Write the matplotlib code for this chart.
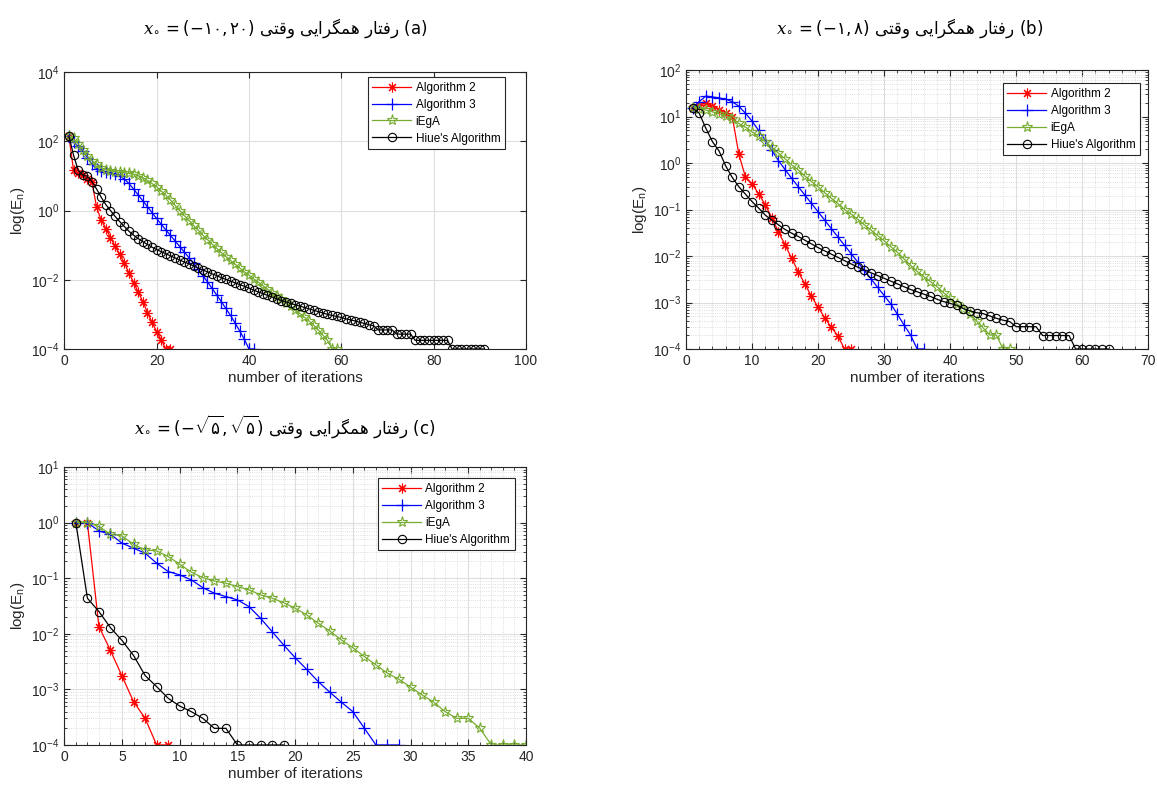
import numpy as np
import matplotlib
matplotlib.use("Agg")
import matplotlib.pyplot as plt
from matplotlib.ticker import MultipleLocator, LogLocator, NullLocator

plt.rcParams['font.family'] = ['Liberation Sans', 'DejaVu Sans']
plt.rcParams['font.size'] = 10
plt.rcParams['mathtext.fontset'] = 'custom'
plt.rcParams['mathtext.rm'] = 'DejaVu Sans'
plt.rcParams['mathtext.it'] = 'DejaVu Serif:italic'

# log10(E_n), iteration n = 1, 2, ...
# (a) x0 = (-10, 20)
a_alg2 = [2.15, 1.16, 1.07, 1.02, 0.92, 0.82, 0.09, -0.28, -0.52, -0.78, -1.03, -1.27,
          -1.51, -1.8, -2.08, -2.35, -2.63, -2.95, -3.23, -3.5, -3.74, -4.0, -4.0]
a_alg3 = [2.15, 1.98, 1.85, 1.72, 1.53, 1.33, 1.2, 1.15, 1.12, 1.09, 1.05, 0.99, 0.91,
          0.78, 0.62, 0.45, 0.28, 0.11, -0.06, -0.23, -0.4, -0.56, -0.72, -0.88, -1.04,
          -1.2, -1.36, -1.52, -1.7, -1.88, -2.06, -2.25, -2.44, -2.63, -2.83, -3.03,
          -3.25, -3.48, -3.72, -4.0, -4.0]
a_iega = [2.15, 2.08, 1.93, 1.75, 1.57, 1.44, 1.33, 1.24, 1.18, 1.14, 1.12, 1.1, 1.09,
          1.07, 1.05, 1.01, 0.95, 0.87, 0.78, 0.68, 0.56, 0.44, 0.3, 0.15, 0.0, -0.15,
          -0.29, -0.43, -0.57, -0.71, -0.84, -0.97, -1.09, -1.21, -1.33, -1.44, -1.55,
          -1.66, -1.77, -1.87, -1.97, -2.07, -2.17, -2.27, -2.37, -2.47, -2.57, -2.67,
          -2.77, -2.87, -2.97, -3.08, -3.19, -3.31, -3.45, -3.6, -3.75, -4.0, -4.0]
a_hiue = [2.15, 1.6, 1.16, 1.02, 0.99, 0.83, 0.62, 0.38, 0.17, 0.0, -0.17, -0.32, -0.46,
          -0.6, -0.71, -0.81, -0.9, -0.98, -1.06, -1.13, -1.19, -1.25, -1.31, -1.37,
          -1.43, -1.49, -1.54, -1.6, -1.66, -1.72, -1.77, -1.83, -1.88, -1.94, -1.99,
          -2.04, -2.09, -2.14, -2.19, -2.24, -2.3, -2.35, -2.4, -2.45, -2.5, -2.55, -2.6,
          -2.64, -2.68, -2.72, -2.76, -2.8, -2.84, -2.88, -2.92, -2.96, -3.0, -3.03,
          -3.06, -3.09, -3.13, -3.16, -3.19, -3.23, -3.26, -3.3, -3.33, -3.45, -3.45,
          -3.45, -3.45, -3.57, -3.57, -3.57, -3.57, -3.75, -3.75, -3.75, -3.75, -3.75,
          -3.75, -3.75, -3.75, -4.0, -4.0, -4.0, -4.0, -4.0, -4.0, -4.0, -4.0]

# (b) x0 = (-1, 8)
b_alg2 = [1.18, 1.24, 1.29, 1.22, 1.15, 1.08, 1.0, 0.19, -0.3, -0.45, -0.66, -0.9,
          -1.18, -1.48, -1.76, -2.05, -2.34, -2.6, -2.87, -3.1, -3.33, -3.53, -3.72,
          -4.0, -4.0]
b_alg3 = [1.18, 1.32, 1.44, 1.42, 1.4, 1.37, 1.32, 1.22, 1.07, 0.9, 0.7, 0.49, 0.27,
          0.05, -0.14, -0.33, -0.51, -0.69, -0.87, -1.05, -1.23, -1.41, -1.59, -1.77,
          -1.95, -2.13, -2.31, -2.49, -2.67, -2.85, -3.03, -3.25, -3.48, -3.7, -4.0, -4.0]
b_iega = [1.18, 1.17, 1.14, 1.1, 1.06, 1.01, 0.94, 0.85, 0.77, 0.67, 0.57, 0.46, 0.34,
          0.21, 0.09, -0.04, -0.15, -0.28, -0.4, -0.51, -0.64, -0.76, -0.87, -1.0, -1.1,
          -1.21, -1.33, -1.44, -1.56, -1.67, -1.8, -1.92, -2.06, -2.2, -2.33, -2.44,
          -2.55, -2.66, -2.79, -2.91, -3.03, -3.13, -3.25, -3.4, -3.55, -3.7, -3.7,
          -4.0, -4.0]
b_hiue = [1.18, 1.07, 0.75, 0.46, 0.26, -0.06, -0.31, -0.51, -0.67, -0.83, -0.97, -1.12,
          -1.23, -1.33, -1.43, -1.51, -1.58, -1.66, -1.74, -1.82, -1.89, -1.96, -2.03,
          -2.1, -2.17, -2.24, -2.3, -2.36, -2.42, -2.48, -2.54, -2.6, -2.66, -2.72,
          -2.77, -2.82, -2.87, -2.93, -2.98, -3.02, -3.06, -3.13, -3.18, -3.22, -3.24,
          -3.29, -3.34, -3.38, -3.41, -3.52, -3.52, -3.52, -3.52, -3.71, -3.71, -3.71,
          -3.71, -3.71, -4.0, -4.0, -4.0, -4.0, -4.0, -4.0]

# (c) x0 = (-sqrt5, sqrt5)
c_alg2 = [0.0, 0.0, -1.87, -2.3, -2.76, -3.22, -3.52, -4.0, -4.0]
c_alg3 = [0.0, 0.0, -0.15, -0.21, -0.37, -0.46, -0.55, -0.73, -0.88, -0.94, -1.03,
          -1.17, -1.27, -1.33, -1.39, -1.51, -1.72, -1.96, -2.2, -2.43, -2.64, -2.86,
          -3.05, -3.23, -3.4, -3.7, -4.0, -4.0, -4.0]
c_iega = [0.0, 0.0, -0.07, -0.21, -0.24, -0.39, -0.49, -0.51, -0.61, -0.75, -0.89,
          -0.99, -1.05, -1.09, -1.15, -1.21, -1.3, -1.36, -1.44, -1.54, -1.66, -1.81,
          -1.95, -2.11, -2.25, -2.41, -2.56, -2.71, -2.82, -2.96, -3.1, -3.23, -3.4,
          -3.52, -3.52, -3.7, -4.0, -4.0, -4.0, -4.0]
c_hiue = [0.0, -1.36, -1.6, -1.89, -2.12, -2.39, -2.75, -2.95, -3.16, -3.3, -3.4, -3.52,
          -3.7, -3.7, -4.0, -4.0, -4.0, -4.0, -4.0]

labels = ["Algorithm 2", "Algorithm 3", "iEgA", "Hiue's Algorithm"]
fa_title = "رفتار همگرایی وقتی"
titles = [
    ("(a)", r"$x_{\!\circ} = (-۱۰, ۲۰)$"),
    ("(b)", r"$x_{\!\circ} = (-۱, ۸)$"),
    ("(c)", r"$x_{\!\circ} = (-\sqrt{۵}, \sqrt{۵})$"),
]

# contextual forms (isolated, final, initial, medial) for the letters used
DUAL = {
    'ف': '\ufed1\ufed2\ufed3\ufed4', 'ت': '\ufe95\ufe96\ufe97\ufe98',
    'ه': '\ufee9\ufeea\ufeeb\ufeec', 'م': '\ufee1\ufee2\ufee3\ufee4',
    'گ': '\ufb92\ufb93\ufb94\ufb95', 'ی': '\ufbfc\ufbfd\ufbfe\ufbff',
    'ق': '\ufed5\ufed6\ufed7\ufed8',
}
RIGHT = {'ر': '\ufead\ufeae', 'ا': '\ufe8d\ufe8e', 'و': '\ufeed\ufeee'}


def shape_fa(text):
    out = []
    for i, ch in enumerate(text):
        prev = text[i - 1] if i > 0 else ''
        nxt = text[i + 1] if i + 1 < len(text) else ''
        jp = prev in DUAL
        if ch in DUAL:
            jn = nxt in DUAL or nxt in RIGHT
            idx = 3 if (jp and jn) else 1 if jp else 2 if jn else 0
            out.append(DUAL[ch][idx])
        elif ch in RIGHT:
            out.append(RIGHT[ch][1 if jp else 0])
        else:
            out.append(ch)
    return ''.join(reversed(out))


green = '#77AC30'
dark = '#262626'
styles = [
    dict(color='#FF0000', marker=(8, 2, 0), ms=7, mew=0.8),
    dict(color='#0000FF', marker='+', ms=8, mew=0.9),
    dict(color=green, marker='*', ms=8, mew=0.8, mfc='none'),
    dict(color='black', marker='o', ms=6, mew=0.8, mfc='none'),
]

fig = plt.figure(figsize=(11.57, 7.85), dpi=100)
W, H = 1157, 785
boxes = [(64.3, 72, 526, 349), (686, 70, 1148.3, 349), (64.3, 467, 526, 745)]
data = [(a_alg2, a_alg3, a_iega, a_hiue),
        (b_alg2, b_alg3, b_iega, b_hiue),
        (c_alg2, c_alg3, c_iega, c_hiue)]
xlims = [100, 70, 40]
xsteps = [20, 10, 5]
ytop = [1e4, 1e2, 1e1]
leg_anchor = [(0.9545, 0.982), (0.982, 0.953), (0.976, 0.960)]
title_pos = [(285, 28), (910, 28), (285, 427)]

for k in range(3):
    x0, y0, x1, y1 = boxes[k]
    ax = fig.add_axes([x0 / W, 1 - y1 / H, (x1 - x0) / W, (y1 - y0) / H])
    for s, (vals, st) in enumerate(zip(data[k], styles)):
        n = np.arange(1, len(vals) + 1)
        ax.plot(n, 10.0 ** np.array(vals), lw=0.9, label=labels[s], **st)
    ax.set_yscale('log')
    ax.set_xlim(0, xlims[k])
    ax.set_ylim(1e-4, ytop[k])
    ax.xaxis.set_major_locator(MultipleLocator(xsteps[k]))
    if k == 0:
        ax.set_yticks([1e-4, 1e-2, 1e0, 1e2, 1e4])
        ax.yaxis.set_minor_locator(NullLocator())
        ax.grid(which='major', color='#dedede', lw=0.8)
    else:
        ax.yaxis.set_major_locator(LogLocator(base=10, numticks=12))
        ax.yaxis.set_minor_locator(LogLocator(base=10, subs=np.arange(2, 10), numticks=12))
        ax.xaxis.set_minor_locator(MultipleLocator(xsteps[k] / 5))
        ax.grid(which='major', color='#dedede', lw=0.8)
        ax.grid(which='minor', color='#d4d4d4', lw=0.6, ls=':')
    ax.set_axisbelow(True)
    ax.tick_params(which='both', direction='in', top=True, right=True, colors=dark,
                   labelsize=10)
    ax.tick_params(which='major', length=4)
    ax.tick_params(which='minor', length=2)
    for sp in ax.spines.values():
        sp.set_color(dark)
        sp.set_linewidth(0.8)
    ax.set_xlabel('number of iterations', fontsize=11, color=dark, labelpad=2)
    ax.set_ylabel(r'log(E$_{\mathdefault{n}}$)', fontsize=11, color=dark, labelpad=3)
    leg = ax.legend(loc='upper right', bbox_to_anchor=leg_anchor[k], borderaxespad=0,
                    prop={'size': 8.5}, fancybox=False, framealpha=1, edgecolor=dark,
                    handlelength=3.3, handletextpad=0.35, labelspacing=0.42,
                    borderpad=0.4)
    leg.get_frame().set_linewidth(0.8)

    tag, math = titles[k]
    tx, ty = title_pos[k]
    fig.text(tx / W, 1 - ty / H, math + ' ' + shape_fa(fa_title) + ' ' + tag,
             ha='center', va='center', fontsize=12, family=['DejaVu Sans'])

fig.savefig('out.png', dpi=100)
